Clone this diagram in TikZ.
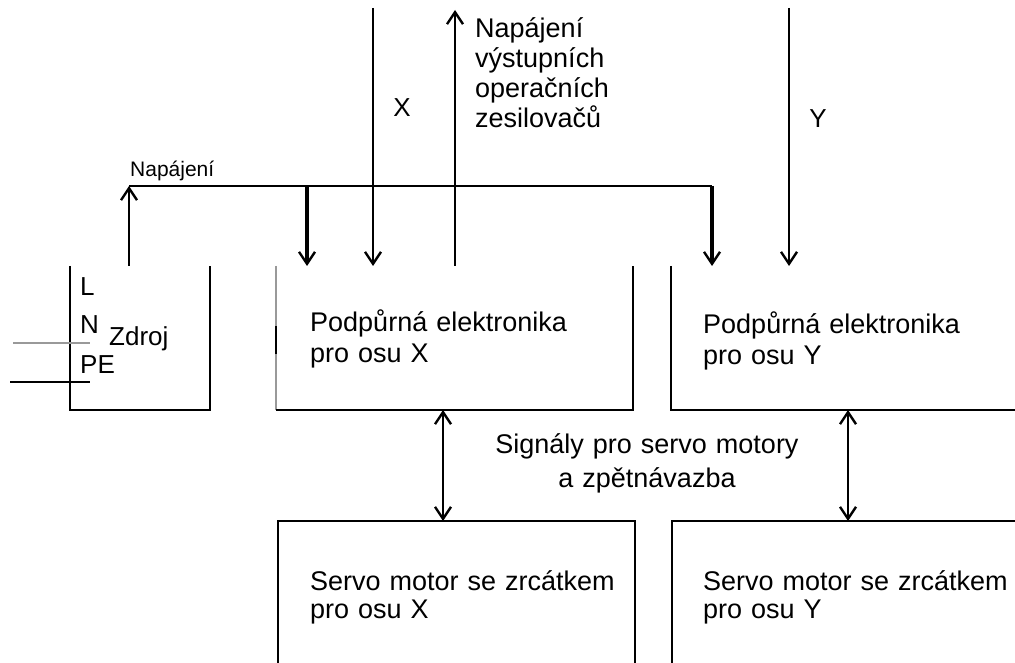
\documentclass[tikz,border=0pt]{standalone}
\usepackage{fontspec}
\setmainfont{Liberation Sans}
\usetikzlibrary{arrows.meta, positioning}

\tikzset{
  blok/.style={minimum width=#1, minimum height=144pt, inner sep=0pt, outer sep=0pt},
  ramec/.style={line width=2pt},
  popis/.style={font=\fontsize{27}{31}\selectfont, inner sep=0pt, align=left},
  hrot/.tip={Straight Barb[length=12pt,width=16pt,line width=2.4pt]},
  vodic/.style={line width=1.8pt, -hrot},
  silny/.style={line width=3.6pt, -hrot},
  obousmer/.style={line width=1.8pt, hrot-hrot},
}

\begin{document}
\begin{tikzpicture}[x=1pt,y=-1pt]
        \useasboundingbox (0,0) rectangle (1015,663);
        % Bloky
        \node[blok=140pt] (zdroj) at (140,338) {};
        \node[blok=357pt] (elx) at (454.5,338) {};
        \node[blok=360pt] (ely) at (851,338) {};
        \node[blok=357pt, minimum height=156pt] (servox) at (456,599) {};
        \node[blok=360pt, minimum height=156pt] (servoy) at (852,599) {};
        % Obrysy (horni hrana chybi)
        \draw[ramec] (zdroj.north west) -- (zdroj.south west) -- (zdroj.south east) -- (zdroj.north east);
        \draw[ramec, black!40] (elx.north west) -- (elx.south west);
        \draw[ramec] (elx.south west) -- (elx.south east) -- (elx.north east);
        \draw[ramec] ([yshift=-16pt]elx.west) -- ([yshift=12pt]elx.west);
        \draw[ramec] (ely.north west) -- (ely.south west) -- (ely.south east);
        \draw[ramec] (servox.south west) -- (servox.north west) -- (servox.north east) -- (servox.south east);
        \draw[ramec] (servoy.south west) -- (servoy.north west) -- (servoy.north east);
        % Body vodicu
        \coordinate (zvyvod) at (129,266);
        \coordinate (sbernice) at (129,186);
        \coordinate (elxnap) at (307,266);
        \coordinate (elynap) at (712,266);
        \coordinate (vstX) at (373,8);
        \coordinate (vystup) at (455,10);
        \coordinate (vstY) at (789,8);
        \coordinate (sigX) at (443,0);
        \coordinate (sigY) at (848,0);
        \coordinate (sitN) at (13,343);
        \coordinate (sitPE) at (10,382);
        % Napajeni
        \draw[vodic] (zvyvod) -- (sbernice);
        \draw[line width=2.6pt] (sbernice) -- (sbernice -| elynap);
        \draw[silny] (sbernice -| elxnap) -- (elxnap);
        \draw[silny] (sbernice -| elynap) -- (elynap);
        % Signaly X a Y
        \draw[vodic] (vstX) -- (vstX |- elx.north);
        \draw[vodic] (vystup |- elx.north) -- (vystup);
        \draw[vodic] (vstY) -- (vstY |- ely.north);
        \draw[obousmer] (sigX |- elx.south) -- (sigX |- servox.north);
        \draw[obousmer] (sigY |- ely.south) -- (sigY |- servoy.north);
        % Sit
        \draw[line width=1.6pt, black!40] (sitN) -- ++(77,0);
        \draw[line width=1.8pt] (sitPE) -- ++(80,0);
        % Popisy
        \node[popis, font=\fontsize{26}{28}\selectfont, anchor=base west] (pL) at (80,295) {L};
        \node[popis, font=\fontsize{26}{28}\selectfont, anchor=base west] (pN) at (80,333) {N};
        \node[popis, font=\fontsize{26}{28}\selectfont, anchor=base west] (pPE) at (80,373) {PE};
        \node[popis, font=\fontsize{26}{28}\selectfont, anchor=base west] (pZdroj) at (109,345) {Zdroj};
        \node[popis, font=\fontsize{21}{24}\selectfont, anchor=base west] (pNap) at (130,177) {Napájení};
        \node[popis, font=\fontsize{26}{30}\selectfont] (pX) at (402,108) {X};
        \node[popis, font=\fontsize{26}{30}\selectfont] (pY) at (818,119) {Y};
        \node[popis, font=\fontsize{27}{30}\selectfont, anchor=base west, text width=200pt] (pVyst) at (475,38)
            {Napájení\\výstupních\\operačních\\zesilovačů};
        \node[popis, anchor=base west, text width=320pt] (pElx) at (310,331) {Podpůrná elektronika\\pro osu X};
        \node[popis, anchor=base west, text width=320pt] (pEly) at (703,333) {Podpůrná elektronika\\pro osu Y};
        \node[popis, font=\fontsize{27}{28}\selectfont, anchor=base west, text width=320pt] (pSx) at (310,590)
            {Servo motor se zrcátkem\\pro osu X};
        \node[popis, font=\fontsize{27}{28}\selectfont, anchor=base west, text width=320pt] (pSy) at (703,590)
            {Servo motor se zrcátkem\\pro osu Y};
        \node[popis, font=\fontsize{27}{34}\selectfont, anchor=base, text width=400pt, align=center] (pSig) at (647,453)
            {Signály pro servo motory\\a zpětnávazba};
\end{tikzpicture}
\end{document}
